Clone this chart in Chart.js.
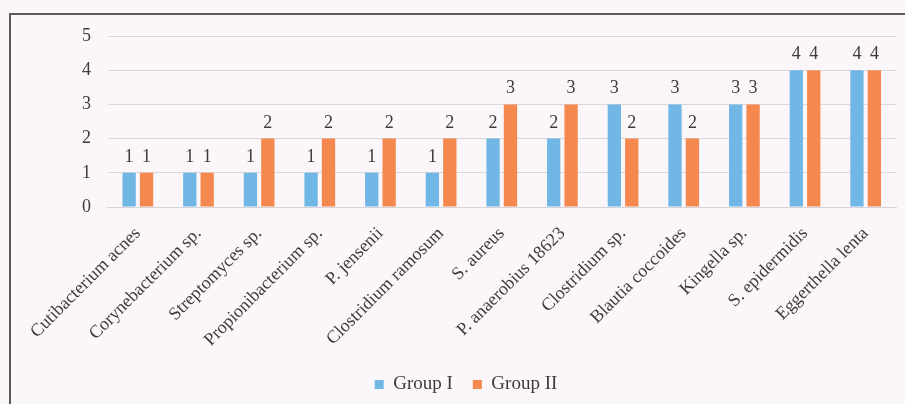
<!DOCTYPE html>
<html>
<head>
<meta charset="utf-8">
<script src="https://cdn.jsdelivr.net/npm/chart.js@4/dist/chart.umd.min.js"></script>
<style>
  html, body { margin:0; padding:0; background:#faf6f9; overflow:hidden; }
  #wrap { position:relative; width:905px; height:404px; }
  #frame { position:absolute; left:9px; top:13px; width:1000px; height:1000px;
           border-left:2px solid #5c5a5c; border-top:2px solid #5c5a5c; pointer-events:none; }
  canvas { position:absolute; left:0; top:0; }
</style>
</head>
<body>
<div id="wrap">
  <canvas id="c" width="905" height="404"></canvas>
  <div id="frame"></div>
</div>
<script>
const categories = [
  "Cutibacterium acnes", "Corynebacterium sp.", "Streptomyces sp.", "Propionibacterium sp.",
  "P. jensenii", "Clostridium ramosum", "S. aureus", "P. anaerobius 18623",
  "Clostridium sp.", "Blautia coccoides", "Kingella sp.", "S. epidermidis", "Eggerthella lenta"
];
const groupI  = [1, 1, 1, 1, 1, 1, 2, 2, 3, 3, 3, 4, 4];
const groupII = [1, 1, 2, 2, 2, 2, 3, 3, 2, 2, 3, 4, 4];
const yTicks = [0, 1, 2, 3, 4, 5];

const FONT = '"Liberation Serif", "Times New Roman", serif';
const TEXT = '#3d3b3d';

const valueLabels = {
  id: 'valueLabels',
  afterDatasetsDraw(chart) {
    const ctx = chart.ctx;
    ctx.save();
    ctx.font = '18px ' + FONT;
    ctx.fillStyle = TEXT;
    ctx.textAlign = 'center';
    ctx.textBaseline = 'alphabetic';
    chart.data.datasets.forEach((ds, i) => {
      chart.getDatasetMeta(i).data.forEach((bar, j) => {
        ctx.fillText(String(ds.data[j]), bar.x, bar.y - 11);
      });
    });
    ctx.restore();
  }
};

new Chart(document.getElementById('c'), {
  type: 'bar',
  data: {
    labels: categories,
    datasets: [
      { label: 'Group I', data: groupI, backgroundColor: '#71b7e6',
        categoryPercentage: 0.574, barPercentage: 0.765 },
      { label: 'Group II', data: groupII, backgroundColor: '#f4884e',
        categoryPercentage: 0.574, barPercentage: 0.765 }
    ]
  },
  options: {
    responsive: false,
    animation: false,
    devicePixelRatio: 1,
    layout: { padding: { left: 36, right: 9, top: 36, bottom: 0 } },
    plugins: {
      legend: {
        position: 'bottom',
        labels: { font: { family: FONT, size: 19 }, color: TEXT, boxWidth: 9, boxHeight: 9, padding: 20 }
      },
      tooltip: { enabled: false }
    },
    scales: {
      x: {
        grid: { display: false },
        border: { display: true, color: '#d6d4d6', width: 1 },
        ticks: { autoSkip: false, minRotation: 45, maxRotation: 45, color: TEXT,
                 font: { family: FONT, size: 18 }, padding: 8 },
        afterFit(s) { s.height = 148; s.paddingLeft = 0; s.paddingRight = 0; }
      },
      y: {
        min: 0, max: 5,
        afterBuildTicks(s) { s.ticks = yTicks.map(v => ({ value: v })); },
        grid: { color: '#d9d7d9', drawTicks: false },
        border: { display: false },
        ticks: { color: TEXT, font: { family: FONT, size: 18 }, padding: 16.5 },
        afterFit(s) { s.width = 71.5; s.paddingTop = 0; s.paddingBottom = 0; }
      }
    }
  },
  plugins: [valueLabels]
});
</script>
</body>
</html>
